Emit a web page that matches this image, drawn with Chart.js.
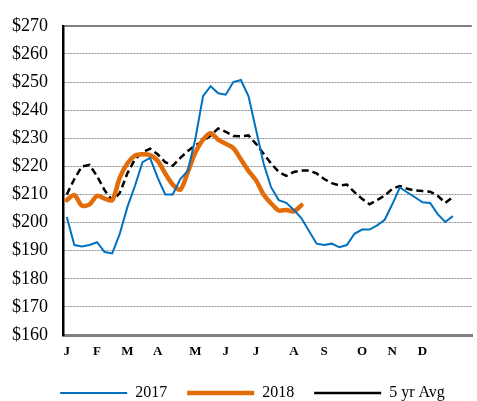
<!DOCTYPE html>
<html lang="en">
<head>
    <meta charset="UTF-8">
    <title>Weekly price chart</title>
    <script src="https://cdn.jsdelivr.net/npm/chart.js"></script>
    <style>
        body {
            margin: 0;
            padding: 0;
            background: #fff;
        }
        #wrap {
            width: 477px;
            height: 401px;
        }
    </style>
</head>
<body>
    <div id="wrap"><canvas id="priceChart"></canvas></div>

    <script>
        // week slots on the x axis (54 slots, data fills the first 52)
        const weeks = Array.from({ length: 54 }, (_, i) => 'W' + (i + 1));
        const monthLetters = ['J', 'F', 'M', 'A', 'M', 'J', 'J', 'A', 'S', 'O', 'N', 'D'];
        const monthWeek = [0, 4, 8, 12, 17, 21, 25, 30, 34, 39, 43, 47];

        const price2017 = [202, 192, 191.5, 192, 193, 189.5, 189, 196, 205.5, 213,
            221.5, 223, 216, 210, 210, 215.5, 218.5, 230, 245, 248.5,
            246, 245.5, 250, 250.7, 245, 233, 221, 212.5, 208, 207,
            204.5, 201.5, 197, 192.5, 192, 192.5, 191.2, 192, 196, 197.5,
            197.5, 199, 201, 206.5, 212.5, 210.7, 209, 207.2, 207, 203,
            200.2, 202.3];
        const price2018 = [208, 209.8, 206, 206.5, 209.5, 208.5, 208, 216, 221, 223.8,
            224.3, 224, 222, 217.5, 213.5, 211.7, 218, 225, 229.5, 231.8,
            229.5, 228, 226.5, 222.5, 218.4, 215, 210, 206.8, 204.3, 204.5,
            204, 206.2];
        const avg5yr = [210, 215.5, 220, 220.5, 216.5, 211.5, 207.8, 210.5, 217.5, 222.5,
            225, 226.3, 224.3, 221.5, 220.2, 223, 225.5, 227.5, 229, 231,
            233.5, 232.3, 230.8, 230.7, 231, 228, 224.5, 221, 218, 216.6,
            218, 218.5, 218.5, 217.5, 215.5, 214, 213.2, 213.5, 210.8, 208.5,
            206.5, 208, 209.6, 212, 213, 212, 211.4, 211.2, 211, 209.5,
            207, 209];

        const yMin = 160, yMax = 270, yStep = 10;
        const frameGray = '#808080';

        // legend sits a bit right of the canvas centre in the original
        const legendShift = {
            id: 'legendShift',
            afterLayout(chart) {
                if (chart.legend) chart.legend.left += 30;
            }
        };

        new Chart(document.getElementById('priceChart'), {
            type: 'line',
            data: {
                labels: weeks,
                datasets: [{
                    label: '2017',
                    data: price2017,
                    borderColor: '#0070C0',
                    backgroundColor: '#0070C0',
                    borderWidth: 2,
                    pointRadius: 0,
                    tension: 0
                }, {
                    label: '2018',
                    data: price2018,
                    borderColor: '#E36C0A',
                    backgroundColor: '#E36C0A',
                    borderWidth: 4.5,
                    borderCapStyle: 'round',
                    borderJoinStyle: 'round',
                    pointRadius: 0,
                    tension: 0.3
                }, {
                    label: '5 yr Avg',
                    data: avg5yr,
                    borderColor: '#000',
                    backgroundColor: '#000',
                    borderWidth: 2.5,
                    borderDash: [7, 4],
                    pointRadius: 0,
                    tension: 0
                }]
            },
            options: {
                responsive: true,
                maintainAspectRatio: false,
                animation: false,
                layout: {
                    padding: { left: 0, right: 2, top: 20, bottom: 0 }
                },
                plugins: {
                    tooltip: { enabled: false },
                    legend: {
                        position: 'bottom',
                        maxHeight: 36,
                        labels: {
                            usePointStyle: true,
                            pointStyle: 'line',
                            pointStyleWidth: 67,
                            padding: 20,
                            color: '#000',
                            font: { family: 'Liberation Serif', size: 16 }
                        }
                    }
                },
                scales: {
                    x: {
                        type: 'category',
                        offset: true,
                        afterFit: (scale) => { scale.height = 30; },
                        grid: {
                            offset: true,
                            drawTicks: false,
                            lineWidth: 2,
                            color: (ctx) => ctx.index === weeks.length ? frameGray : 'rgba(0,0,0,0)'
                        },
                        border: { display: true, color: frameGray, width: 3 },
                        ticks: {
                            autoSkip: false,
                            maxRotation: 0,
                            padding: 9,
                            color: '#000',
                            font: { family: 'Liberation Serif', size: 13, weight: 'bold' },
                            callback: (val, i) => {
                                const k = monthWeek.indexOf(i);
                                return k >= 0 ? monthLetters[k] : '';
                            }
                        }
                    },
                    y: {
                        min: yMin,
                        max: yMax,
                        afterFit: (scale) => { scale.width = 63; },
                        grid: {
                            drawTicks: false,
                            lineWidth: (ctx) => ctx.tick && ctx.tick.value === yMax ? 2 : 1,
                            color: (ctx) => {
                                if (!ctx.tick) return '#999';
                                if (ctx.tick.value === yMin) return 'rgba(0,0,0,0)';
                                if (ctx.tick.value === yMax) return frameGray;
                                return '#8c8c8c';
                            }
                        },
                        border: {
                            display: true,
                            color: '#000',
                            width: 2.5,
                            dash: (ctx) => ctx.tick && ctx.tick.value !== yMax ? [2, 1] : []
                        },
                        ticks: {
                            stepSize: yStep,
                            padding: 15,
                            color: '#000',
                            font: { family: 'Liberation Serif', size: 18 },
                            callback: (v) => '$' + v
                        }
                    }
                }
            },
            plugins: [legendShift]
        });
    </script>
</body>
</html>
